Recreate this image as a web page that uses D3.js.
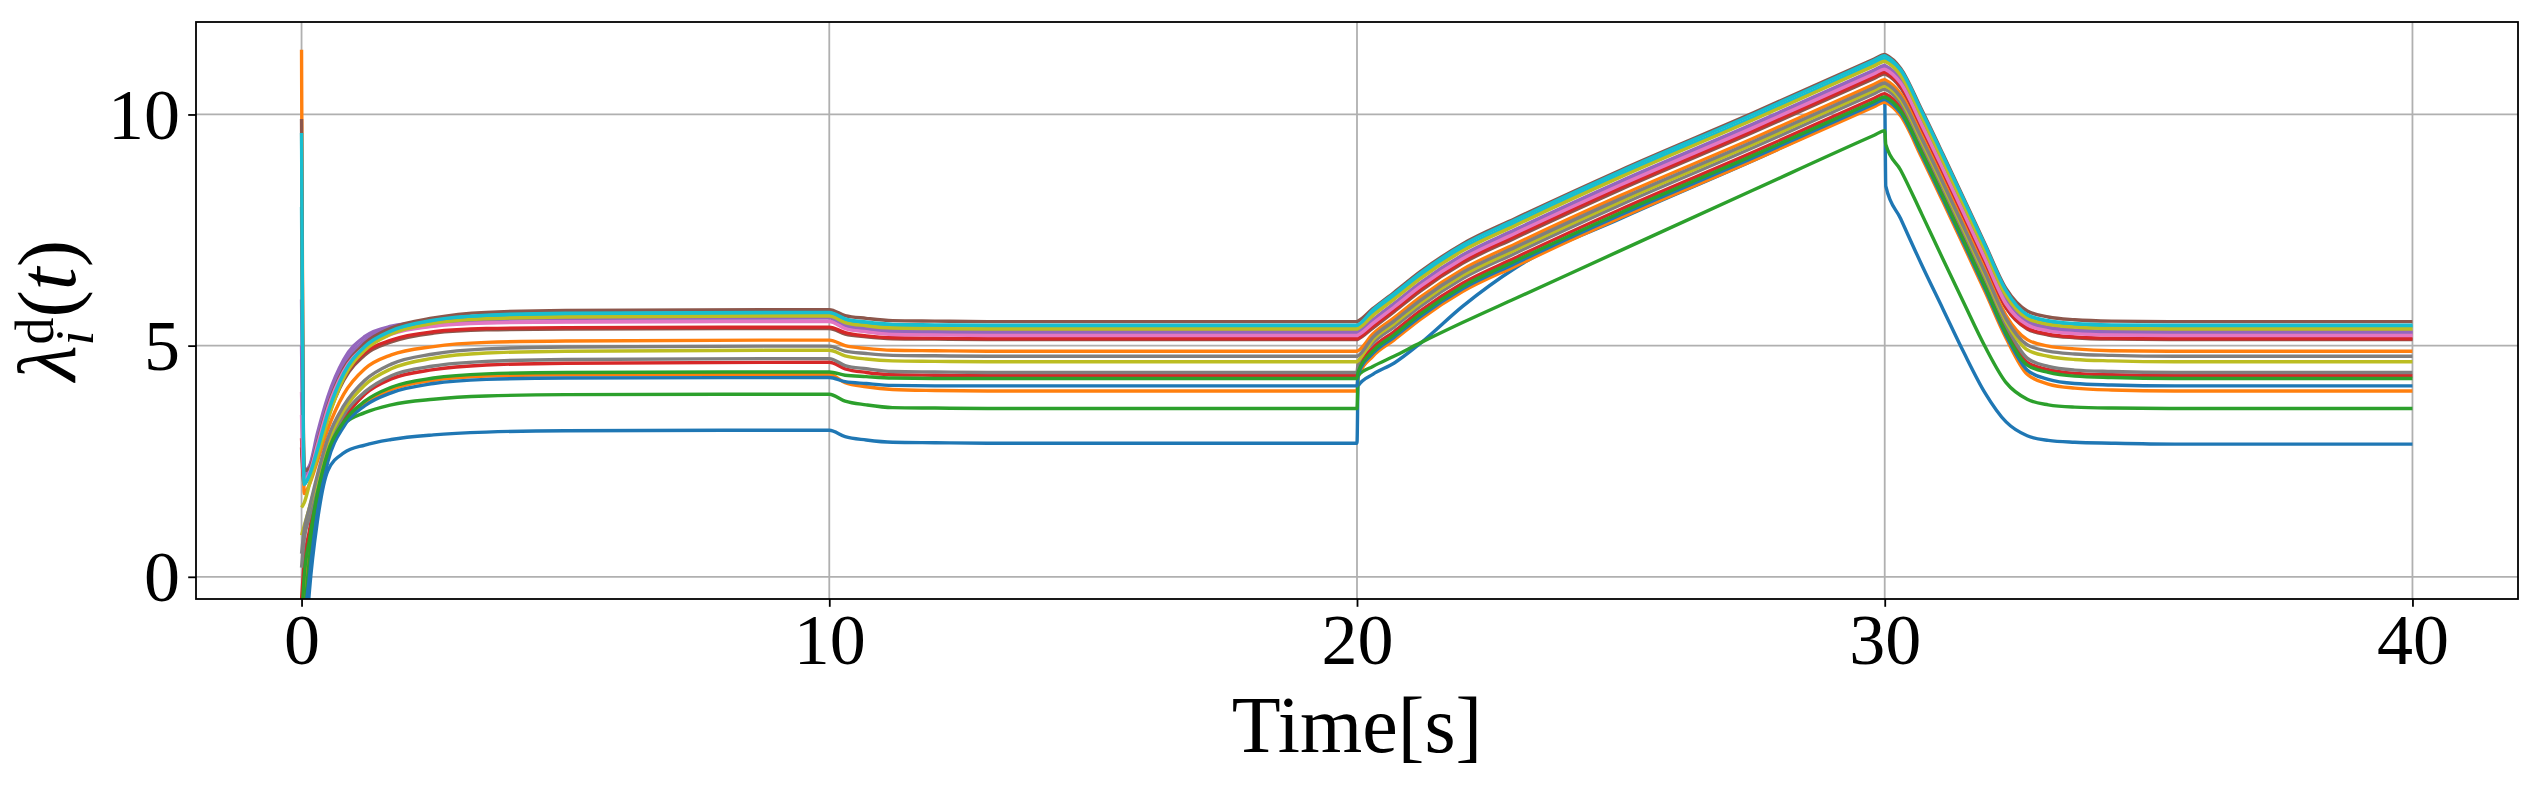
<!DOCTYPE html>
<html>
<head>
<meta charset="utf-8">
<script src="https://cdnjs.cloudflare.com/ajax/libs/d3/7.8.5/d3.min.js"></script>
<style>
  body { margin: 0; background: #ffffff; }
  #chart text { font-family: "Liberation Serif", "Times New Roman", serif; fill: #000; }
</style>
</head>
<body>
<div id="chart"></div>
<script>
// sample times [s], shared by every agent
var times = [0, 0.05, 0.15, 0.3, 0.5, 0.8, 1.2, 1.7, 2.5, 3.5, 5, 10,
    10.3, 10.7, 11.2, 12, 13, 20,
    20.02, 20.3, 20.7, 21.2, 22, 23, 25, 27.5, 29.8, 30,
    30.02, 30.3, 30.7, 31.1, 31.5, 31.9, 32.3, 32.7, 33.1, 33.6, 34.3, 35.5, 40];

var xTicks = [0, 10, 20, 30, 40];
var yTicks = [0, 5, 10];

// lambda_i^d(t), one array per agent
var lambda00 = [-3.0, -2.0, -0.3, 1.2, 2.3, 2.68, 2.85, 2.97, 3.07, 3.13, 3.16, 3.17,
    3.03, 2.96, 2.91, 2.90, 2.89, 2.89,
    4.13, 4.38, 4.62, 5.05, 5.85, 6.68, 7.75, 9.0, 10.2, 10.30,
    8.45, 7.75, 6.75, 5.8, 4.85, 3.98, 3.35, 3.05, 2.95, 2.91, 2.89, 2.87, 2.87];
var lambda01 = [-1.5, -0.5, 0.5, 1.6, 2.6, 3.3, 3.75, 4.05, 4.25, 4.34, 4.37, 4.38,
    4.20, 4.11, 4.05, 4.03, 4.02, 4.02,
    4.32, 4.77, 5.12, 5.57, 6.17, 6.72, 7.77, 9.00, 10.17, 10.27,
    10.26, 9.97, 9.07, 8.12, 7.15, 6.17, 5.16, 4.38, 4.17, 4.08, 4.04, 4.02, 4.02];
var lambda02 = [-2.0, -1.0, 0.4, 1.7, 2.8, 3.3, 3.55, 3.72, 3.84, 3.91, 3.94, 3.95,
    3.80, 3.72, 3.66, 3.65, 3.64, 3.64,
    4.35, 4.55, 4.77, 5.06, 5.5, 6.02, 7.06, 8.36, 9.55, 9.65,
    9.35, 8.8, 7.85, 6.88, 5.92, 4.98, 4.2, 3.84, 3.72, 3.67, 3.65, 3.64, 3.64];
var lambda03 = [-0.5, 0.3, 1.0, 1.9, 2.7, 3.4, 3.95, 4.28, 4.48, 4.58, 4.62, 4.64,
    4.50, 4.42, 4.37, 4.36, 4.35, 4.35,
    4.50, 4.95, 5.30, 5.75, 6.35, 6.90, 7.95, 9.18, 10.35, 10.45,
    10.44, 10.15, 9.25, 8.30, 7.33, 6.35, 5.34, 4.64, 4.48, 4.40, 4.37, 4.35, 4.35];
var lambda04 = [6.0, 2.3, 2.4, 3.1, 3.9, 4.7, 5.2, 5.42, 5.53, 5.59, 5.61, 5.62,
    5.46, 5.38, 5.33, 5.31, 5.30, 5.30,
    5.31, 5.56, 5.91, 6.36, 6.96, 7.51, 8.56, 9.79, 10.96, 11.06,
    11.05, 10.76, 9.86, 8.91, 7.94, 6.96, 5.98, 5.53, 5.40, 5.34, 5.31, 5.30, 5.30];
var lambda05 = [2.8, 2.0, 2.2, 2.7, 3.45, 4.25, 4.8, 5.08, 5.27, 5.34, 5.36, 5.37,
    5.25, 5.19, 5.15, 5.14, 5.13, 5.13,
    5.14, 5.38, 5.73, 6.18, 6.78, 7.33, 8.38, 9.61, 10.78, 10.88,
    10.87, 10.58, 9.68, 8.73, 7.76, 6.78, 5.81, 5.36, 5.23, 5.17, 5.14, 5.13, 5.13];
var lambda06 = [4.0, 2.2, 2.3, 2.9, 3.7, 4.5, 5.0, 5.28, 5.43, 5.5, 5.52, 5.53,
    5.39, 5.31, 5.26, 5.25, 5.24, 5.24,
    5.25, 5.50, 5.85, 6.30, 6.90, 7.45, 8.50, 9.73, 10.90, 11.00,
    10.99, 10.70, 9.80, 8.85, 7.88, 6.90, 5.92, 5.47, 5.34, 5.28, 5.25, 5.24, 5.24];
var lambda07 = [0.2, 0.8, 1.3, 2.0, 2.8, 3.5, 4.0, 4.35, 4.56, 4.66, 4.70, 4.72,
    4.57, 4.50, 4.44, 4.43, 4.42, 4.42,
    4.60, 5.05, 5.40, 5.85, 6.45, 7.00, 8.05, 9.28, 10.45, 10.55,
    10.54, 10.25, 9.35, 8.40, 7.43, 6.45, 5.44, 4.73, 4.55, 4.47, 4.44, 4.42, 4.42];
var lambda08 = [0.9, 1.1, 1.5, 2.1, 2.9, 3.6, 4.15, 4.5, 4.73, 4.84, 4.88, 4.90,
    4.78, 4.71, 4.67, 4.66, 4.65, 4.65,
    4.67, 5.12, 5.47, 5.92, 6.52, 7.07, 8.12, 9.35, 10.52, 10.62,
    10.61, 10.32, 9.42, 8.47, 7.50, 6.52, 5.52, 4.91, 4.77, 4.70, 4.67, 4.65, 4.65];
var lambda09 = [8.0, 2.1, 2.25, 2.8, 3.6, 4.42, 4.98, 5.3, 5.53, 5.64, 5.68, 5.70,
    5.56, 5.49, 5.44, 5.43, 5.42, 5.42,
    5.43, 5.70, 6.05, 6.50, 7.10, 7.65, 8.70, 9.93, 11.10, 11.20,
    11.19, 10.90, 10.00, 9.05, 8.08, 7.10, 6.13, 5.65, 5.52, 5.46, 5.43, 5.42, 5.42];
var lambda10 = [-2.5, -1.2, 0.0, 1.4, 2.5, 3.25, 3.7, 3.98, 4.18, 4.27, 4.30, 4.31,
    4.22, 4.18, 4.14, 4.13, 4.13, 4.13,
    4.38, 4.83, 5.18, 5.63, 6.23, 6.78, 7.83, 9.06, 10.23, 10.33,
    10.32, 10.03, 9.13, 8.18, 7.21, 6.23, 5.22, 4.47, 4.27, 4.18, 4.15, 4.13, 4.13];
var lambda11 = [11.4, 1.8, 2.0, 2.5, 3.2, 3.95, 4.5, 4.8, 4.98, 5.07, 5.10, 5.12,
    5.00, 4.94, 4.90, 4.89, 4.88, 4.88,
    4.89, 5.25, 5.60, 6.05, 6.65, 7.20, 8.25, 9.48, 10.65, 10.75,
    10.74, 10.45, 9.55, 8.60, 7.63, 6.65, 5.65, 5.13, 4.99, 4.93, 4.89, 4.88, 4.88];
var lambda12 = [-1.0, 0.0, 0.8, 1.8, 2.7, 3.35, 3.8, 4.1, 4.3, 4.39, 4.42, 4.43,
    4.36, 4.33, 4.30, 4.29, 4.29, 4.29,
    4.43, 4.88, 5.23, 5.68, 6.28, 6.83, 7.88, 9.11, 10.28, 10.38,
    10.37, 10.08, 9.18, 8.23, 7.26, 6.28, 5.27, 4.58, 4.42, 4.34, 4.31, 4.29, 4.29];
var lambda13 = [3.0, 2.1, 2.2, 2.75, 3.5, 4.3, 4.85, 5.12, 5.3, 5.37, 5.39, 5.40,
    5.28, 5.21, 5.17, 5.16, 5.15, 5.15,
    5.16, 5.42, 5.77, 6.22, 6.82, 7.37, 8.42, 9.65, 10.82, 10.92,
    10.91, 10.62, 9.72, 8.77, 7.80, 6.82, 5.83, 5.38, 5.25, 5.19, 5.16, 5.15, 5.15];
var lambda14 = [5.0, 2.2, 2.35, 3.0, 3.8, 4.6, 5.12, 5.38, 5.5, 5.56, 5.59, 5.60,
    5.44, 5.36, 5.31, 5.29, 5.28, 5.28,
    5.29, 5.54, 5.89, 6.34, 6.94, 7.49, 8.54, 9.77, 10.94, 11.04,
    11.03, 10.74, 9.84, 8.89, 7.92, 6.94, 5.96, 5.51, 5.38, 5.32, 5.29, 5.28, 5.28];
var lambda15 = [9.9, 2.3, 2.35, 2.9, 3.7, 4.5, 5.05, 5.38, 5.6, 5.72, 5.76, 5.78,
    5.65, 5.59, 5.54, 5.53, 5.52, 5.52,
    5.53, 5.80, 6.15, 6.60, 7.20, 7.75, 8.80, 10.03, 11.20, 11.30,
    11.29, 11.00, 10.10, 9.15, 8.18, 7.20, 6.23, 5.75, 5.62, 5.56, 5.53, 5.52, 5.52];
var lambda16 = [3.5, 2.1, 2.25, 2.85, 3.65, 4.45, 4.97, 5.25, 5.42, 5.49, 5.51, 5.52,
    5.37, 5.30, 5.24, 5.23, 5.22, 5.22,
    5.23, 5.48, 5.83, 6.28, 6.88, 7.43, 8.48, 9.71, 10.88, 10.98,
    10.97, 10.68, 9.78, 8.83, 7.86, 6.88, 5.90, 5.45, 5.32, 5.26, 5.23, 5.22, 5.22];
var lambda17 = [0.5, 1.0, 1.5, 2.2, 3.0, 3.7, 4.25, 4.6, 4.82, 4.93, 4.97, 4.99,
    4.88, 4.83, 4.79, 4.78, 4.77, 4.77,
    4.78, 5.18, 5.53, 5.98, 6.58, 7.13, 8.18, 9.41, 10.58, 10.68,
    10.67, 10.38, 9.48, 8.53, 7.56, 6.58, 5.58, 5.02, 4.88, 4.82, 4.79, 4.77, 4.77];
var lambda18 = [1.5, 1.6, 2.0, 2.6, 3.4, 4.3, 4.9, 5.25, 5.48, 5.58, 5.62, 5.64,
    5.50, 5.43, 5.38, 5.37, 5.36, 5.36,
    5.37, 5.65, 6.00, 6.45, 7.05, 7.60, 8.65, 9.88, 11.05, 11.15,
    11.14, 10.85, 9.95, 9.00, 8.03, 7.05, 6.08, 5.59, 5.46, 5.40, 5.37, 5.36, 5.36];
var lambda19 = [9.6, 2.0, 2.2, 2.75, 3.55, 4.4, 4.98, 5.32, 5.55, 5.66, 5.70, 5.72,
    5.58, 5.51, 5.46, 5.45, 5.44, 5.44,
    5.45, 5.77, 6.12, 6.57, 7.17, 7.72, 8.77, 10.00, 11.17, 11.27,
    11.26, 10.97, 10.07, 9.12, 8.15, 7.17, 6.19, 5.67, 5.54, 5.48, 5.45, 5.44, 5.44];

var allSeries = [lambda00, lambda01, lambda02, lambda03, lambda04, lambda05, lambda06,
    lambda07, lambda08, lambda09, lambda10, lambda11, lambda12, lambda13, lambda14,
    lambda15, lambda16, lambda17, lambda18, lambda19];

// matplotlib default cycle
var palette = ["#1f77b4", "#ff7f0e", "#2ca02c", "#d62728", "#9467bd",
    "#8c564b", "#e377c2", "#7f7f7f", "#bcbd22", "#17becf"];

var width = 2544;
var height = 786;
var plotLeft = 196, plotRight = 2518, plotTop = 22, plotBottom = 599;
var tickLen = 7.8;

var svg = d3.select("#chart")
    .append("svg")
    .attr("width", width)
    .attr("height", height);

var xScale = d3.scaleLinear().domain([-2, 42]).range([plotLeft, plotRight]);
var yScale = d3.scaleLinear().domain([-0.48, 12.0]).range([plotBottom, plotTop]);

svg.append("defs").append("clipPath")
    .attr("id", "plotClip")
    .append("rect")
    .attr("x", plotLeft)
    .attr("y", plotTop)
    .attr("width", plotRight - plotLeft)
    .attr("height", plotBottom - plotTop);

// grid
var grid = svg.append("g").attr("class", "grid");
grid.selectAll(".vgrid").data(xTicks).enter()
    .append("line")
    .attr("x1", function(d){ return xScale(d); })
    .attr("x2", function(d){ return xScale(d); })
    .attr("y1", plotTop)
    .attr("y2", plotBottom)
    .attr("stroke", "#b0b0b0")
    .attr("stroke-width", 1.8);
grid.selectAll(".hgrid").data(yTicks).enter()
    .append("line")
    .attr("x1", plotLeft)
    .attr("x2", plotRight)
    .attr("y1", function(d){ return yScale(d); })
    .attr("y2", function(d){ return yScale(d); })
    .attr("stroke", "#b0b0b0")
    .attr("stroke-width", 1.8);

// lines
var line = d3.line()
    .x(function(d){ return xScale(d[0]); })
    .y(function(d){ return yScale(d[1]); })
    .curve(d3.curveMonotoneX);

var lineGroup = svg.append("g").attr("clip-path", "url(#plotClip)");
allSeries.forEach(function(vals, i){
    var pts = times.map(function(t, k){ return [t, vals[k]]; });
    lineGroup.append("path")
        .datum(pts)
        .attr("d", line)
        .attr("fill", "none")
        .attr("stroke", palette[i % palette.length])
        .attr("stroke-width", 3.4)
        .attr("stroke-linejoin", "round")
        .attr("stroke-linecap", "butt");
});

// axes
var xAxis = d3.axisBottom(xScale).tickValues(xTicks).tickSize(tickLen).tickPadding(8);
var yAxis = d3.axisLeft(yScale).tickValues(yTicks).tickSize(tickLen).tickPadding(8);

var gx = svg.append("g")
    .attr("transform", "translate(0," + plotBottom + ")")
    .call(xAxis);
gx.select(".domain").remove();
gx.selectAll(".tick line").attr("stroke", "#000").attr("stroke-width", 1.8);
gx.selectAll(".tick text")
    .attr("y", 65)
    .attr("dy", 0)
    .attr("font-size", 72);
gx.attr("font-family", null).attr("font-size", null);

var gy = svg.append("g")
    .attr("transform", "translate(" + plotLeft + ",0)")
    .call(yAxis);
gy.select(".domain").remove();
gy.selectAll(".tick line").attr("stroke", "#000").attr("stroke-width", 1.8);
gy.selectAll(".tick text")
    .attr("x", -16)
    .attr("dy", "0.33em")
    .attr("font-size", 72);
gy.attr("font-family", null).attr("font-size", null);

// spines
svg.append("rect")
    .attr("x", plotLeft)
    .attr("y", plotTop)
    .attr("width", plotRight - plotLeft)
    .attr("height", plotBottom - plotTop)
    .attr("fill", "none")
    .attr("stroke", "#000")
    .attr("stroke-width", 1.8);

// axis labels
svg.append("text")
    .attr("x", (plotLeft + plotRight) / 2)
    .attr("y", 752)
    .attr("text-anchor", "middle")
    .attr("font-size", 80)
    .text("Time[s]");

var yLab = svg.append("text")
    .attr("transform", "translate(75," + ((plotTop + plotBottom) / 2) + ") rotate(-90)")
    .attr("text-anchor", "middle")
    .attr("font-size", 82);
yLab.append("tspan").attr("font-style", "italic").text("λ");
yLab.append("tspan").attr("font-style", "italic").attr("font-size", 54).attr("dy", 18).text("i");
yLab.append("tspan").attr("font-size", 54).attr("dx", -14).attr("dy", -40).text("d");
yLab.append("tspan").attr("dy", 22).text("(");
yLab.append("tspan").attr("font-style", "italic").text("t");
yLab.append("tspan").text(")");
</script>
</body>
</html>
